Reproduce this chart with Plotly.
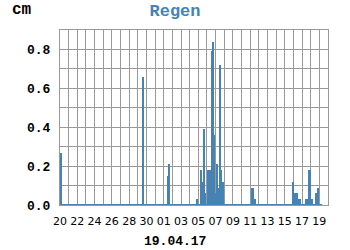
import plotly.graph_objects as go

# --- data ---
rain_times = [
    "2017-03-20 00:30", "2017-03-20 03:20", "2017-03-29 15:00",
    "2017-04-01 12:20", "2017-04-01 15:05",
    "2017-04-04 21:00", "2017-04-05 08:00", "2017-04-05 10:40", "2017-04-05 13:30",
    "2017-04-05 16:20", "2017-04-05 19:00", "2017-04-06 03:25", "2017-04-06 06:10",
    "2017-04-06 09:00", "2017-04-06 11:45", "2017-04-06 14:30", "2017-04-06 17:15",
    "2017-04-06 20:00", "2017-04-06 22:50", "2017-04-07 01:35", "2017-04-07 04:20",
    "2017-04-07 07:10", "2017-04-07 09:55", "2017-04-07 12:40", "2017-04-07 15:30",
    "2017-04-07 18:10", "2017-04-07 21:00",
    "2017-04-11 05:30", "2017-04-11 08:30", "2017-04-11 11:00", "2017-04-11 14:00",
    "2017-04-15 23:30", "2017-04-16 02:00", "2017-04-16 05:30", "2017-04-16 08:30",
    "2017-04-16 11:00", "2017-04-16 14:00", "2017-04-16 16:30", "2017-04-16 19:30",
    "2017-04-17 11:30", "2017-04-17 14:00", "2017-04-17 20:00", "2017-04-17 22:30",
    "2017-04-18 01:30", "2017-04-18 04:00", "2017-04-18 15:00", "2017-04-18 18:00",
    "2017-04-18 21:00",
]
rain_cm = [
    0.06, 0.27, 0.66,
    0.15, 0.21,
    0.03, 0.18, 0.12, 0.06,
    0.39, 0.06, 0.18, 0.18,
    0.06, 0.18, 0.79, 0.84,
    0.36, 0.06, 0.03, 0.21,
    0.09, 0.09, 0.72, 0.18,
    0.12, 0.12,
    0.09, 0.09, 0.03, 0.03,
    0.12, 0.03, 0.06, 0.06,
    0.06, 0.03, 0.03, 0.03,
    0.03, 0.03, 0.18, 0.18,
    0.03, 0.03, 0.06, 0.03,
    0.09,
]
series_span = ["2017-03-20 00:00", "2017-04-19 08:00"]   # extent of the recorded series (zero baseline)

tick_days = [
    "2017-03-20", "2017-03-21", "2017-03-22", "2017-03-23", "2017-03-24", "2017-03-25",
    "2017-03-26", "2017-03-27", "2017-03-28", "2017-03-29", "2017-03-30", "2017-03-31",
    "2017-04-01", "2017-04-02", "2017-04-03", "2017-04-04", "2017-04-05", "2017-04-06",
    "2017-04-07", "2017-04-08", "2017-04-09", "2017-04-10", "2017-04-11", "2017-04-12",
    "2017-04-13", "2017-04-14", "2017-04-15", "2017-04-16", "2017-04-17", "2017-04-18",
    "2017-04-19", "2017-04-20",
]
tick_labels = [
    "20", "", "22", "", "24", "", "26", "", "28", "", "30", "",
    "01", "", "03", "", "05", "", "07", "", "09", "", "11", "",
    "13", "", "15", "", "17", "", "19", "",
]
y_ticks = [0.0, 0.1, 0.2, 0.3, 0.4, 0.5, 0.6, 0.7, 0.8, 0.9]
y_labels = ["<b>0.0</b>", "", "<b>0.2</b>", "", "<b>0.4</b>", "", "<b>0.6</b>", "", "<b>0.8</b>", ""]

x_range = ["2017-03-20", "2017-04-20"]
y_range = [0, 0.9]

title_text = "Regen"
unit_text = "cm"
date_text = "19.04.17"

BLUE = "#4682b4"
GRID = "#999999"
MONO = "Liberation Mono"

fig = go.Figure()
fig.add_trace(go.Bar(
    x=rain_times, y=rain_cm,
    width=2.7 * 3600 * 1000,
    marker=dict(color=BLUE, line=dict(width=0)),
    hoverinfo="x+y",
))
fig.add_trace(go.Scatter(
    x=series_span, y=[0, 0], mode="lines",
    line=dict(color=BLUE, width=2), cliponaxis=False, hoverinfo="skip",
))

fig.update_layout(
    width=350, height=250,
    margin=dict(l=60, r=22, t=30, b=45),
    paper_bgcolor="white", plot_bgcolor="white",
    font=dict(family=MONO),
    showlegend=False, bargap=0,
    title=dict(text="<b>" + title_text + "</b>", xref="container", x=0.5, xanchor="center",
               yref="container", y=0.96, yanchor="middle",
               font=dict(family=MONO, size=17, color=BLUE)),
    xaxis=dict(
        type="date", range=x_range, tickmode="array",
        tickvals=tick_days, ticktext=tick_labels,
        showgrid=True, gridcolor=GRID, gridwidth=1,
        showline=True, linecolor=GRID, linewidth=1, mirror=True,
        ticks="", tickangle=0, ticklabelstandoff=6,
        tickfont=dict(family="DejaVu Sans", size=11, color="black"),
        zeroline=False, fixedrange=True,
    ),
    yaxis=dict(
        range=y_range, tickmode="array", tickvals=y_ticks, ticktext=y_labels,
        showgrid=True, gridcolor=GRID, gridwidth=1,
        showline=True, linecolor=GRID, linewidth=1, mirror=True,
        ticks="", ticklabelstandoff=6,
        tickfont=dict(family=MONO, size=13, color="black"),
        zeroline=False, fixedrange=True,
    ),
    annotations=[
        dict(text="<b>" + unit_text + "</b>", xref="paper", yref="paper", x=-0.187, y=1.114,
             xanchor="left", yanchor="middle", showarrow=False,
             font=dict(family=MONO, size=16, color="black")),
        dict(text="<b>" + date_text + "</b>", xref="paper", yref="paper", x=0.429, y=-0.211,
             xanchor="center", yanchor="middle", showarrow=False,
             font=dict(family=MONO, size=13, color="black")),
    ],
)

fig.write_html("out.html")
